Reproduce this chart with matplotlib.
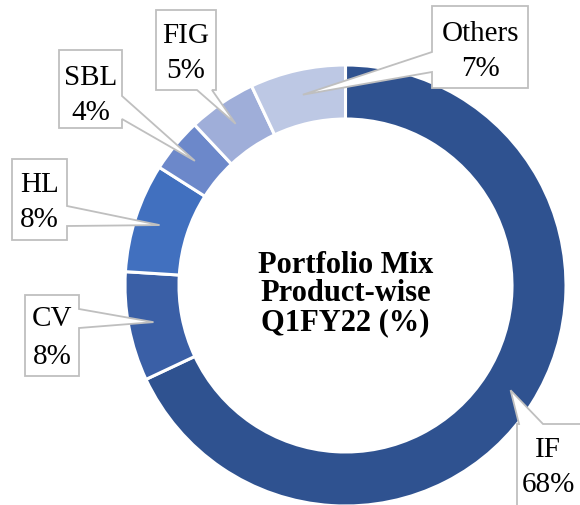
import matplotlib.pyplot as plt
from matplotlib.patches import Polygon
import numpy as np

products = ["IF", "CV", "HL", "SBL", "FIG", "Others"]
shares = [68, 8, 8, 4, 5, 7]
colors = ["#2F5290", "#3A5FA6", "#4170BF", "#6C88CA", "#9FAED9", "#BDC8E4"]
title_lines = ["Portfolio Mix", "Product-wise", "Q1FY22 (%)"]

# layout in pixel coords (y down)
cx, cy = 345.5, 286.5
r_out, r_in = 220.5, 166.5
# box (x0, y0, x1, y1), side of the pointer, pointer span, baselines of both lines
callouts = {
    "IF": ((517, 425, 590, 520), "top", (519, 543), (457, 492)),
    "CV": ((25, 296, 79, 377), "right", (310, 329), (326, 364)),
    "HL": ((12, 160, 67, 241), "right", (207, 227), (192, 227)),
    "SBL": ((59, 51, 122, 129), "right", (97, 120), (85, 120)),
    "FIG": ((156, 11, 216, 91), "bottom", (197, 212), (43, 78)),
    "Others": ((432, 7, 528, 89), "left", (53, 73), (41, 76)),
}

plt.rcParams['font.family'] = ['Liberation Serif', 'DejaVu Serif']

fig = plt.figure(figsize=(5.8, 5.06), dpi=100)
ax = fig.add_axes([0, 0, 1, 1])
ax.axis('off')

# y axis inverted -> counterclock in data = clockwise on screen, 270 = top
ax.pie(shares, colors=colors, center=(cx, cy), radius=r_out, startangle=270,
       counterclock=True, wedgeprops=dict(width=r_out - r_in, edgecolor='white', linewidth=2.2))
ax.set_xlim(0, 580)
ax.set_ylim(506, 0)
ax.set_aspect('equal')

cum = np.cumsum(shares) - np.array(shares) / 2
r_mid = (r_out + r_in) / 2 + 2
for name, c in zip(products, cum):
    th = np.radians(270 + c / sum(shares) * 360)
    tx, ty = cx + r_mid * np.cos(th), cy + r_mid * np.sin(th)
    (x0, y0, x1, y1), side, (a, b), (b1, b2) = callouts[name]
    if side == "left":
        pts = [(x0, y0), (x1, y0), (x1, y1), (x0, y1), (x0, b), (tx, ty), (x0, a)]
    elif side == "right":
        pts = [(x0, y0), (x1, y0), (x1, a), (tx, ty), (x1, b), (x1, y1), (x0, y1)]
    elif side == "top":
        pts = [(x0, y0), (a, y0), (tx, ty), (b, y0), (x1, y0), (x1, y1), (x0, y1)]
    else:
        pts = [(x0, y0), (x1, y0), (x1, y1), (b, y1), (tx, ty), (a, y1), (x0, y1)]
    ax.add_patch(Polygon(pts, closed=True, facecolor='white', edgecolor='#BFBFBF',
                         linewidth=1.3, zorder=5))
    xm = (x0 + x1) / 2 if name != "IF" else 548
    ax.text(xm, b1, name, ha='center', va='baseline', fontsize=21, zorder=6)
    ax.text(xm, b2, f"{shares[products.index(name)]}%", ha='center', va='baseline',
            fontsize=21, zorder=6)

for line, yb in zip(title_lines, [273, 301, 330]):
    ax.text(cx, yb, line, ha='center', va='baseline', fontsize=22, fontweight='bold')

fig.savefig("out.png", dpi=100)
